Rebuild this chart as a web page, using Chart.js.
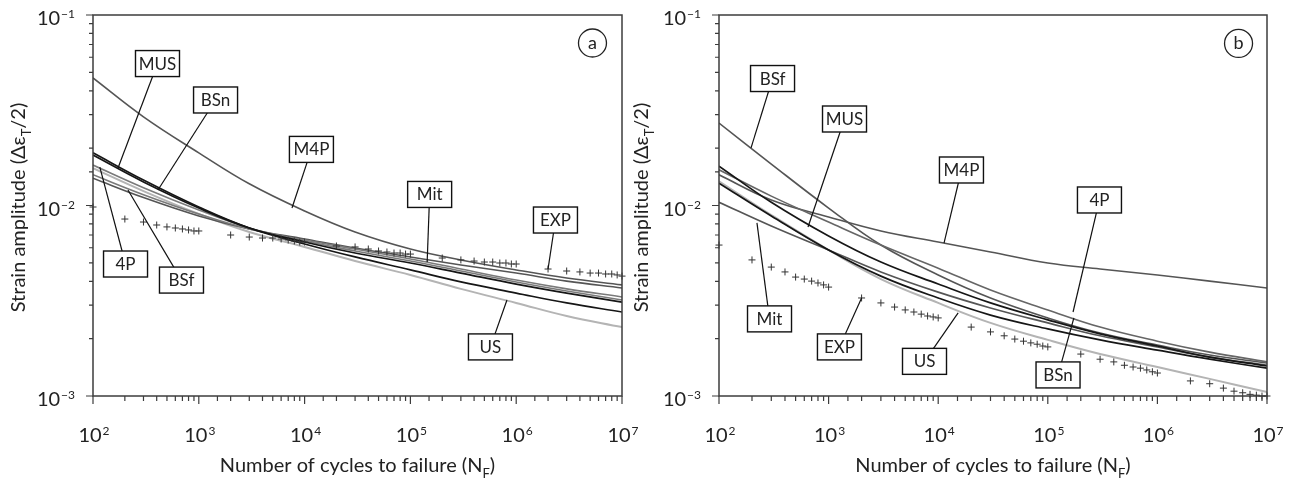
<!DOCTYPE html>
<html lang="en">
<head>
<meta charset="UTF-8">
<title>Strain-life curves</title>
<script src="https://cdn.jsdelivr.net/npm/chart.js@4.4.1/dist/chart.umd.min.js"></script>
<style>
  html, body { margin: 0; padding: 0; background: #fff; }
  #wrap { position: relative; width: 1291px; height: 482px; overflow: hidden; }
  canvas { position: absolute; top: 0; }
  #chartA { left: 0; }
  #chartB { left: 620px; }
</style>
</head>
<body>
<div id="wrap">
  <canvas id="chartA" width="645" height="482"></canvas>
  <canvas id="chartB" width="671" height="482"></canvas>
</div>
<script>
// cycles at which the fitted curves were read
const cycles = [1e2, 3e2, 1e3, 3e3, 1e4, 3e4, 1e5, 3e5, 1e6, 3e6, 1e7];
// cycles of the experimental points
const expCycles = [100,
  200, 300, 400, 500, 600, 700, 800, 900, 1000,
  2000, 3000, 4000, 5000, 6000, 7000, 8000, 9000, 10000,
  20000, 30000, 40000, 50000, 60000, 70000, 80000, 90000, 100000,
  200000, 300000, 400000, 500000, 600000, 700000, 800000, 900000, 1000000,
  2000000, 3000000, 4000000, 5000000, 6000000, 7000000, 8000000, 9000000, 10000000];

// panel (a)
const aM4P = [0.0467, 0.0292, 0.0189, 0.0130, 0.00936, 0.00726, 0.00591, 0.00518, 0.00459, 0.00416, 0.00383];
const aMit = [0.0139, 0.0110, 0.00881, 0.00753, 0.00667, 0.00598, 0.00537, 0.00487, 0.00442, 0.00401, 0.00369];
const aBSf = [0.0145, 0.0114, 0.00902, 0.00753, 0.00659, 0.00591, 0.00524, 0.00464, 0.00406, 0.00365, 0.00331];
const a4P  = [0.0163, 0.0124, 0.00947, 0.00762, 0.00651, 0.00577, 0.00511, 0.00453, 0.00397, 0.00356, 0.00319];
const aBSn = [0.0184, 0.0133, 0.00970, 0.00762, 0.00643, 0.00563, 0.00499, 0.00442, 0.00387, 0.00347, 0.00311];
const aMUS = [0.0189, 0.0136, 0.00982, 0.00762, 0.00628, 0.00537, 0.00459, 0.00397, 0.00347, 0.00308, 0.00276];
const aUS  = [0.0157, 0.0119, 0.00902, 0.00726, 0.00606, 0.00511, 0.00432, 0.00365, 0.00308, 0.00263, 0.00230];
const aEXP = [0.00982,
  0.00849, 0.00819, 0.00790, 0.00772, 0.00762, 0.00753, 0.00744, 0.00735, 0.00735,
  0.00700, 0.00683, 0.00675, 0.00675, 0.00667, 0.00659, 0.00651, 0.00643, 0.00643,
  0.00613, 0.00606, 0.00591, 0.00577, 0.00570, 0.00563, 0.00563, 0.00556, 0.00556,
  0.00530, 0.00518, 0.00511, 0.00505, 0.00505, 0.00499, 0.00499, 0.00493, 0.00493,
  0.00464, 0.00453, 0.00448, 0.00442, 0.00442, 0.00437, 0.00437, 0.00432, 0.00426];

// panel (b)
const bBSf = [0.0271, 0.0165, 0.00970, 0.00620, 0.00432, 0.00327, 0.00257, 0.00214, 0.00185, 0.00164, 0.00149];
const bM4P = [0.0145, 0.0107, 0.00871, 0.00735, 0.00643, 0.00570, 0.00499, 0.00464, 0.00432, 0.00401, 0.00369];
const b4P  = [0.0154, 0.0112, 0.00819, 0.00620, 0.00469, 0.00360, 0.00283, 0.00230, 0.00194, 0.00170, 0.00151];
const bMUS = [0.0161, 0.0104, 0.00692, 0.00505, 0.00387, 0.00308, 0.00251, 0.00212, 0.00183, 0.00160, 0.00144];
const bMit = [0.0104, 0.00780, 0.00584, 0.00448, 0.00351, 0.00290, 0.00242, 0.00207, 0.00181, 0.00160, 0.00145];
const bBSn = [0.0131, 0.00881, 0.00584, 0.00426, 0.00327, 0.00266, 0.00225, 0.00197, 0.00174, 0.00156, 0.00140];
const bUS  = [0.0134, 0.00891, 0.00584, 0.00411, 0.00308, 0.00242, 0.00197, 0.00166, 0.00142, 0.00123, 0.00105];
const bEXP = [0.00620,
  0.00518, 0.00475, 0.00448, 0.00421, 0.00411, 0.00401, 0.00392, 0.00383, 0.00373,
  0.00327, 0.00308, 0.00293, 0.00283, 0.00276, 0.00269, 0.00263, 0.00260, 0.00257,
  0.00230, 0.00217, 0.00207, 0.00199, 0.00194, 0.00190, 0.00187, 0.00183, 0.00181,
  0.00166, 0.00156, 0.00151, 0.00145, 0.00142, 0.00140, 0.00137, 0.00134, 0.00132,
  0.00120, 0.00116, 0.00110, 0.00106, 0.00104, 0.00102, 0.00101, 0.00100, 0.00100];

// callout boxes: label, box centre and leader end, in data units
const aCallouts = [
  { text: 'MUS', at: [407, 0.0556], to: [172, 0.0157] },
  { text: 'BSn', at: [1440, 0.0358], to: [411, 0.01206] },
  { text: 'M4P', at: [11600, 0.0197], to: [7600, 0.0097] },
  { text: 'Mit', at: [152000, 0.01143], to: [144000, 0.00505] },
  { text: 'EXP', at: [2.35e6, 0.00839], to: [2e6, 0.00464] },
  { text: '4P', at: [203, 0.00493], to: [116, 0.0159] },
  { text: 'BSf', at: [686, 0.00406], to: [214, 0.01206] },
  { text: 'US', at: [571000, 0.00181], to: [818000, 0.00319] }
];
const bCallouts = [
  { text: 'BSf', at: [308, 0.0464], to: [196, 0.02005] },
  { text: 'MUS', at: [1397, 0.02845], to: [649, 0.00771] },
  { text: 'M4P', at: [16300, 0.01536], to: [11300, 0.00635] },
  { text: '4P', at: [296000, 0.01069], to: [170000, 0.00276] },
  { text: 'Mit', at: [289, 0.00254], to: [222, 0.0081] },
  { text: 'EXP', at: [1256, 0.00181], to: [2000, 0.00327] },
  { text: 'US', at: [7500, 0.00152], to: [15200, 0.00273] },
  { text: 'BSn', at: [124000, 0.00129], to: [173000, 0.00257] }
];

const FONT = 'Lato, "DejaVu Sans", sans-serif';
const INK = '#222';

function richText(ctx, parts, x, y, size) {
  let total = 0;
  const widths = parts.map(([t, sub]) => {
    ctx.font = (sub ? Math.round(size * 0.65) : size) + 'px ' + FONT;
    const w = ctx.measureText(t).width;
    total += w;
    return w;
  });
  let cx = x - total / 2;
  parts.forEach(([t, sub], i) => {
    ctx.font = (sub ? Math.round(size * 0.65) : size) + 'px ' + FONT;
    ctx.fillText(t, cx, y + (sub ? size * 0.3 : 0));
    cx += widths[i];
  });
}

function powLabel(ctx, exp, x, y, align) {
  const base = '10';
  const sup = exp < 0 ? '\u2212' + (-exp) : String(exp);
  ctx.font = '20px ' + FONT;
  const wb = ctx.measureText(base).width;
  ctx.font = '12px ' + FONT;
  const ws = ctx.measureText(sup).width;
  const w = wb + ws + 1;
  const left = align === 'right' ? x - w : x - w / 2;
  ctx.font = '20px ' + FONT;
  ctx.fillText(base, left, y);
  ctx.font = '12px ' + FONT;
  ctx.fillText(sup, left + wb + 1, y - 7);
}

const isDecade = v => Math.abs(Math.log10(v) - Math.round(Math.log10(v))) < 1e-6;

const decor = {
  id: 'decor',
  afterDatasetsDraw(chart, args, opts) {
    const { ctx, chartArea: ca, scales: { x, y } } = chart;
    ctx.save();
    ctx.textAlign = 'left';
    ctx.textBaseline = 'alphabetic';
    ctx.fillStyle = INK;

    // frame
    ctx.strokeStyle = '#3c3c3c';
    ctx.lineWidth = 1.5;
    ctx.strokeRect(ca.left, ca.top, ca.right - ca.left, ca.bottom - ca.top);

    // ticks
    ctx.lineWidth = 1.2;
    ctx.beginPath();
    x.ticks.forEach(t => {
      const px = x.getPixelForValue(t.value);
      const len = isDecade(t.value) ? 8 : 5;
      ctx.moveTo(px, ca.bottom);
      ctx.lineTo(px, ca.bottom + len);
    });
    y.ticks.forEach(t => {
      const py = y.getPixelForValue(t.value);
      const len = isDecade(t.value) ? 7 : 4;
      ctx.moveTo(ca.left, py);
      ctx.lineTo(ca.left - len, py);
    });
    ctx.stroke();

    // tick labels
    x.ticks.filter(t => isDecade(t.value)).forEach(t => {
      powLabel(ctx, Math.round(Math.log10(t.value)), x.getPixelForValue(t.value) + 1, ca.bottom + 46, 'center');
    });
    y.ticks.filter(t => isDecade(t.value)).forEach(t => {
      powLabel(ctx, Math.round(Math.log10(t.value)), ca.left - 18, y.getPixelForValue(t.value) + 10, 'right');
    });

    // axis titles
    richText(ctx, [['Number of cycles to failure (N', 0], ['F', 1], [')', 0]],
      (ca.left + ca.right) / 2, ca.bottom + 76, 20);
    ctx.save();
    ctx.translate(opts.titleX, (ca.top + ca.bottom) / 2 + 2);
    ctx.rotate(-Math.PI / 2);
    richText(ctx, [['Strain amplitude (\u0394\u03b5', 0], ['T', 1], ['/2)', 0]], 0, 7, 20);
    ctx.restore();

    // callouts
    opts.callouts.forEach(c => {
      const cx = x.getPixelForValue(c.at[0]), cy = y.getPixelForValue(c.at[1]);
      const tx = x.getPixelForValue(c.to[0]), ty = y.getPixelForValue(c.to[1]);
      ctx.strokeStyle = '#111';
      ctx.lineWidth = 1.2;
      ctx.beginPath();
      ctx.moveTo(cx, cy);
      ctx.lineTo(tx, ty);
      ctx.stroke();
      const w = 44, h = 26;
      ctx.fillStyle = '#fff';
      ctx.fillRect(cx - w / 2, cy - h / 2, w, h);
      ctx.lineWidth = 1.4;
      ctx.strokeRect(cx - w / 2, cy - h / 2, w, h);
      ctx.fillStyle = INK;
      ctx.font = '17px ' + FONT;
      ctx.textAlign = 'center';
      ctx.fillText(c.text, cx, cy + 6);
      ctx.textAlign = 'left';
    });

    // panel tag
    const gx = x.getPixelForValue(opts.tag.at[0]), gy = y.getPixelForValue(opts.tag.at[1]);
    ctx.beginPath();
    ctx.arc(gx, gy, 14, 0, Math.PI * 2);
    ctx.lineWidth = 1.3;
    ctx.strokeStyle = '#222';
    ctx.stroke();
    ctx.font = '18px ' + FONT;
    ctx.textAlign = 'center';
    ctx.fillText(opts.tag.text, gx, gy + 6);
    ctx.restore();
  }
};

function curve(values, color, width) {
  return {
    data: cycles.map((n, i) => ({ x: n, y: values[i] })),
    showLine: true,
    borderColor: color,
    borderWidth: width,
    pointRadius: 0,
    tension: 0.4,
    fill: false
  };
}

function points(values) {
  return {
    data: expCycles.map((n, i) => ({ x: n, y: values[i] })),
    showLine: false,
    pointStyle: 'cross',
    pointRadius: 3.5,
    borderColor: '#333',
    borderWidth: 1,
    clip: false
  };
}

function panel(id, datasets, callouts, tag, leftPx, rightPad, titleX) {
  return new Chart(document.getElementById(id), {
    type: 'scatter',
    data: { datasets },
    plugins: [decor],
    options: {
      responsive: false,
      animation: false,
      layout: { padding: { top: 15, right: rightPad, left: 0, bottom: 0 } },
      scales: {
        x: {
          type: 'logarithmic', min: 100, max: 1e7,
          ticks: { display: false }, grid: { display: false }, border: { display: false },
          afterFit: s => { s.height = 86; }
        },
        y: {
          type: 'logarithmic', min: 1e-3, max: 1e-1,
          ticks: { display: false }, grid: { display: false }, border: { display: false },
          afterFit: s => { s.width = leftPx; }
        }
      },
      plugins: {
        legend: { display: false },
        tooltip: { enabled: false },
        decor: { callouts, tag, titleX }
      }
    }
  });
}

panel('chartA', [
  points(aEXP),
  curve(aMUS, '#161616', 1.7),
  curve(aBSn, '#161616', 1.7),
  curve(a4P, '#7a7a7a', 1.6),
  curve(aBSf, '#7a7a7a', 1.6),
  curve(aMit, '#555', 1.6),
  curve(aM4P, '#555', 1.6),
  curve(aUS, '#b4b4b4', 2)
], aCallouts, { text: 'a', at: [5.26e6, 0.0713] }, 93, 23, 18);

panel('chartB', [
  points(bEXP),
  curve(bMUS, '#161616', 1.7),
  curve(bBSn, '#161616', 1.7),
  curve(b4P, '#666', 1.6),
  curve(bBSf, '#555', 1.6),
  curve(bMit, '#555', 1.6),
  curve(bM4P, '#555', 1.6),
  curve(bUS, '#b4b4b4', 2)
], bCallouts, { text: 'b', at: [5.5e6, 0.0709] }, 99, 24, 21);
</script>
</body>
</html>
